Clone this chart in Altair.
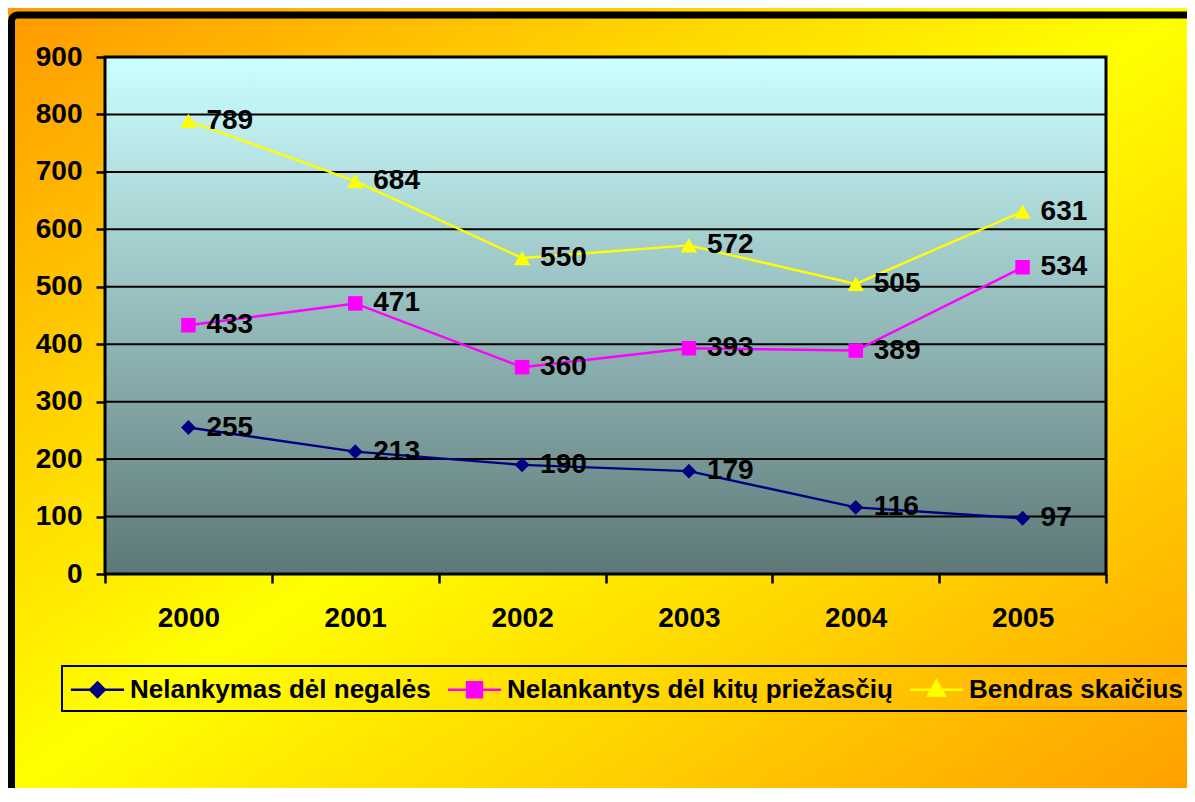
import altair as alt
import pandas as pd

# ---- data ----
years = ["2000", "2001", "2002", "2003", "2004", "2005"]
series_names = ["Nelankymas dėl negalės", "Nelankantys dėl kitų priežasčių", "Bendras skaičius"]
negales = [255, 213, 190, 179, 116, 97]
kitu = [433, 471, 360, 393, 389, 534]
bendras = [789, 684, 550, 572, 505, 631]
y_ticks = [0, 100, 200, 300, 400, 500, 600, 700, 800, 900]
grid_values = [100, 200, 300, 400, 500, 600, 700, 800]

# ---- styles ----
colors = ["#000080", "#FF00FF", "#FFFF00"]
shapes = ["diamond", "square", "triangle-up"]
marker_sizes = [220, 210, 270]
legend_paths = [
    "M-1.9,0H1.9M0,-0.52L0.52,0L0,0.52L-0.52,0Z",
    "M-1.9,0H1.9M-0.53,-0.53H0.53V0.53H-0.53Z",
    "M-1.9,0H1.9M0,-0.64L0.6,0.43H-0.6Z",
]
FONT = "Liberation Sans"
FS = 28
W, H = 1001, 517
PAD = {"left": 97, "top": 49, "right": 81, "bottom": 214}

rows = []
for name, vals in zip(series_names, [negales, kitu, bendras]):
    for yr, v in zip(years, vals):
        rows.append({"year": yr, "series": name, "value": v})
df = pd.DataFrame(rows)
grid_df = pd.DataFrame({"v": grid_values})
one = pd.DataFrame({"a": [0]})

xscale = alt.Scale(type="band", domain=years, paddingInner=0, paddingOuter=0)
yscale = alt.Scale(domain=[0, 900], nice=False, zero=True)

xaxis = alt.Axis(title=None, tickBand="extent", tickSize=9, tickWidth=2.5, tickColor="black",
                 domain=False, grid=False, labelAngle=0, labelFont=FONT, labelFontSize=FS,
                 labelFontWeight="bold", labelColor="black", labelPadding=21, zindex=1)
yaxis = alt.Axis(title=None, values=y_ticks, tickSize=9, tickWidth=2.5, tickColor="black",
                 domain=False, grid=False, labelFont=FONT, labelFontSize=FS,
                 labelFontWeight="bold", labelColor="black", labelPadding=14, zindex=1)

X = alt.X("year:O", scale=xscale, axis=xaxis, bandPosition=0.5)
Y = alt.Y("value:Q", scale=yscale, axis=yaxis)

# background with diagonal gradient
bg = alt.Chart(one).mark_rect(
    fill=alt.LinearGradient(
        gradient="linear", x1=0, y1=0, x2=1, y2=1,
        stops=[alt.GradientStop(color="#FF9900", offset=0),
               alt.GradientStop(color="#FFFF00", offset=0.5),
               alt.GradientStop(color="#FFA000", offset=1)])
).encode(x=alt.value(-PAD["left"]), x2=alt.value(W + PAD["right"]),
         y=alt.value(-PAD["top"]), y2=alt.value(H + PAD["bottom"]))

frame = alt.Chart(one).mark_rect(
    fill="transparent", stroke="black", strokeWidth=7, cornerRadius=6
).encode(x=alt.value(-93.5), x2=alt.value(W + 300),
         y=alt.value(-42), y2=alt.value(H + 400))

plotbg = alt.Chart(one).mark_rect(
    fill=alt.LinearGradient(
        gradient="linear", x1=0, y1=0, x2=0, y2=1,
        stops=[alt.GradientStop(color="#CCFFFF", offset=0),
               alt.GradientStop(color="#5E7878", offset=1)])
).encode(x=alt.value(0), x2=alt.value(W), y=alt.value(0), y2=alt.value(H))

grid = alt.Chart(grid_df).mark_rule(color="black", strokeWidth=2).encode(
    y=alt.Y("v:Q", scale=yscale, axis=yaxis)
)

border = alt.Chart(one).mark_rect(
    fill="transparent", stroke="black", strokeWidth=3
).encode(x=alt.value(0), x2=alt.value(W), y=alt.value(0), y2=alt.value(H))

line_layers = []
point_layers = []
for name, col, shp, sz in zip(series_names, colors, shapes, marker_sizes):
    base = alt.Chart(df).transform_filter(alt.datum.series == name)
    line_layers.append(base.mark_line(strokeWidth=2.4, color=col).encode(x=X, y=Y))
    point_layers.append(
        base.mark_point(filled=True, shape=shp, size=sz, opacity=1, color=col).encode(x=X, y=Y)
    )

labels = alt.Chart(df).mark_text(
    align="left", baseline="middle", dx=18, font=FONT, fontSize=FS,
    fontWeight="bold", color="black"
).encode(x=X, y=Y, text="value:Q")

leg = alt.Legend(orient="none", legendX=-43, legendY=609, direction="horizontal", title=None,
                 symbolSize=784, symbolStrokeWidth=2.5, symbolOpacity=1,
                 labelFont=FONT, labelFontSize=26, labelFontWeight="bold", labelColor="black",
                 labelOffset=17, labelLimit=0, columnPadding=11, padding=8,
                 strokeColor="black", symbolOffset=12, zindex=2)

legend_layer = alt.Chart(df).mark_point(
    filled=True, size=784, opacity=0, strokeWidth=2.5
).encode(
    x=X, y=Y,
    fill=alt.Fill("series:N", scale=alt.Scale(domain=series_names, range=colors), legend=leg),
    stroke=alt.Stroke("series:N", scale=alt.Scale(domain=series_names, range=colors), legend=leg),
    shape=alt.Shape("series:N", scale=alt.Scale(domain=series_names, range=legend_paths), legend=leg),
)

chart = alt.layer(
    bg, frame, plotbg, grid, border, *line_layers, *point_layers, labels, legend_layer
).properties(
    width=W, height=H, padding=PAD, autosize=alt.AutoSizeParams(type="none")
).configure_view(strokeWidth=0).configure_legend(strokeWidth=2)

chart.save("out.html", embed_options={"renderer": "svg", "actions": False})
